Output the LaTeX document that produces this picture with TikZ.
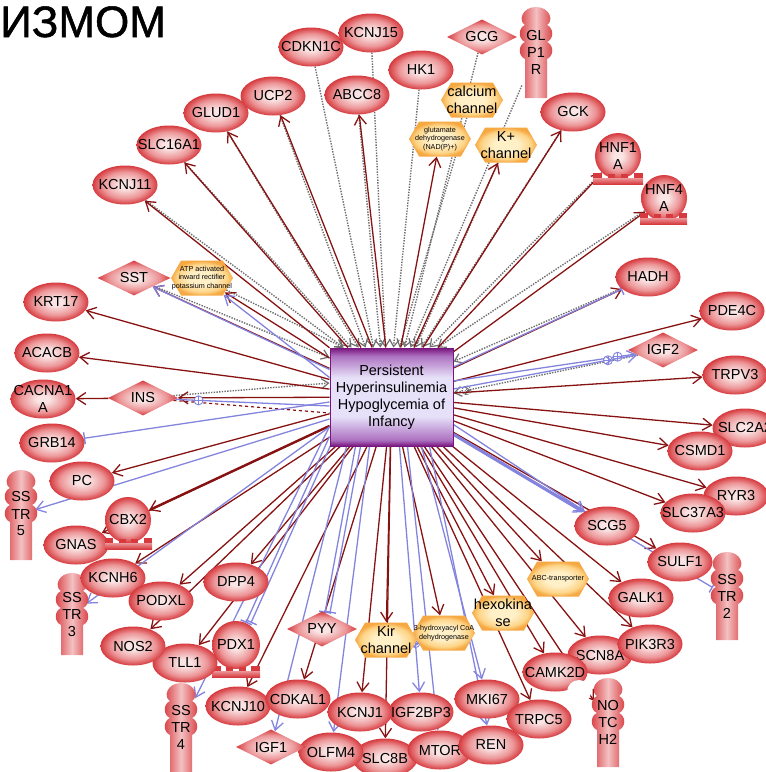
\documentclass[tikz,border=0pt]{standalone}
\usepackage{fontspec}
\setmainfont{Liberation Sans}
\newfontfamily\titlefont[FakeBold=1.2]{Liberation Sans}
\usetikzlibrary{shapes.geometric,shapes.symbols,arrows.meta,backgrounds,calc}

\definecolor{rg0}{RGB}{250,228,228}
\definecolor{rg1}{RGB}{236,150,152}
\definecolor{rg2}{RGB}{214,58,62}
\definecolor{og0}{RGB}{255,240,200}
\definecolor{og1}{RGB}{253,212,135}
\definecolor{og2}{RGB}{246,168,66}
\definecolor{linkred}{RGB}{135,18,18}
\definecolor{linkblue}{RGB}{132,132,222}
\definecolor{linkgray}{RGB}{110,110,110}
\definecolor{boxdark}{RGB}{120,20,125}
\definecolor{boxmid}{RGB}{172,112,192}
\definecolor{boxlight}{RGB}{230,224,248}

\pgfdeclareradialshading{redglow}{\pgfpoint{0bp}{0bp}}{color(0bp)=(rg0); color(5bp)=(rg0); color(17bp)=(rg1); color(25bp)=(rg2); color(50bp)=(rg2)}
\pgfdeclareradialshading{orangeglow}{\pgfpoint{0bp}{0bp}}{color(0bp)=(og0); color(10bp)=(og0); color(20bp)=(og1); color(25bp)=(og2); color(50bp)=(og2)}
\pgfdeclareverticalshading{boxshade}{100bp}{color(0bp)=(boxdark); color(25bp)=(boxdark); color(28bp)=(boxmid); color(40bp)=(boxlight); color(60bp)=(boxlight); color(71bp)=(boxmid); color(75bp)=(boxdark); color(100bp)=(boxdark)}

\newcommand\genefont{\fontsize{14.5}{17}\selectfont}
\newcommand\tinyfont{\fontsize{7.2}{8.4}\selectfont}

% receptor: centre x, top y, bottom y
\newcommand\rshape[3]{%
  \path[left color=rg2, right color=rg2, middle color=rg0!55!rg1]
  (#1-11,#3) -- (#1-11,#2+52)
  .. controls (#1-18,#2+49) and (#1-18,#2+38) .. (#1-11,#2+35)
  .. controls (#1-18,#2+32) and (#1-18,#2+21) .. (#1-11,#2+18)
  .. controls (#1-18,#2+14) and (#1-14,#2) .. (#1,#2)
  .. controls (#1+14,#2) and (#1+18,#2+14) .. (#1+11,#2+18)
  .. controls (#1+18,#2+21) and (#1+18,#2+32) .. (#1+11,#2+35)
  .. controls (#1+18,#2+38) and (#1+18,#2+49) .. (#1+11,#2+52)
  -- (#1+11,#3) -- cycle;}
% toothed base under a nuclear factor: left x, right x, top y
\newcommand\cbase[3]{%
  \path[top color=rg1, bottom color=rg2] (#1,#3+5) rectangle (#2,#3+11);
  \fill[rg2] (#1,#3) rectangle ({#1+0.18*(#2-#1)},#3+5);
  \fill[rg2] ({#1+0.30*(#2-#1)},#3+1) rectangle ({#1+0.44*(#2-#1)},#3+5);
  \fill[rg2] ({#1+0.56*(#2-#1)},#3+1) rectangle ({#1+0.70*(#2-#1)},#3+5);
  \fill[rg2] ({#1+0.82*(#2-#1)},#3) rectangle (#2,#3+5);}

\tikzset{
  gene/.style={ellipse, shade, shading=redglow, minimum width=65pt, minimum height=39pt,
    inner xsep=-40pt, inner ysep=-20pt, font=\genefont, align=center},
  dia/.style={diamond, aspect=2, shade, shading=redglow, minimum width=70pt,
    minimum height=35pt, inner sep=0pt, font=\genefont},
  hexa/.style={signal, signal to=east and west, signal pointer angle=120, shade,
    shading=orangeglow, minimum width=62pt, minimum height=35pt, inner sep=0pt},
  hx/.style={font=\genefont, align=center, inner sep=0pt},
  hxs/.style={font=\tinyfont, align=center, inner sep=0pt},
  nf/.style={circle, shade, shading=redglow, minimum size=46pt, inner sep=-20pt,
    font=\genefont, align=center},
  rcpt/.style={rectangle, minimum width=28pt, minimum height=91pt, inner sep=0pt,
    font=\genefont, align=center},
  ra/.style={draw=linkred, line width=1.3pt,
    -{Straight Barb[length=9pt,width=12pt,line width=1.3pt]}},
  gd/.style={draw=linkgray, line width=1.4pt, dash pattern=on 1.4pt off 1.3pt,
    -{Straight Barb[length=7pt,width=10pt,line width=1.2pt]}},
  ba/.style={draw=linkblue, line width=1.3pt,
    -{Straight Barb[length=9pt,width=12pt,line width=1.3pt]}},
  bt/.style={draw=linkblue, line width=1.3pt, -{Bar[width=12pt,line width=1.4pt]}},
  bl/.style={draw=linkblue, line width=1.3pt},
  oplus/.style={circle, draw=#1, fill=white, line width=0.9pt, minimum size=9pt,
    inner sep=0pt, path picture={\draw[#1, line width=0.8pt]
      (path picture bounding box.north) -- (path picture bounding box.south)
      (path picture bounding box.west) -- (path picture bounding box.east);}},
}

\begin{document}
\begin{tikzpicture}[x=1pt, y=-1pt]
\useasboundingbox (0,0) rectangle (766,772);

\node[anchor=base west, inner sep=0pt, font=\titlefont\fontsize{44}{44}\selectfont] (title) at (0,37) {ИЗМОМ};

% central disease node
\node[draw=boxdark, line width=1pt, shade, shading=boxshade, minimum width=123pt,
  minimum height=98pt, inner sep=0pt, font=\genefont, align=center] (box) at (391.5,397)
  {Persistent\\Hyperinsulinemia\\Hypoglycemia of\\Infancy};

% ---------------- top ----------------
\node[gene] (CDKN1C) at (311,47) {CDKN1C};
\node[gene] (KCNJ15) at (371,33) {KCNJ15};
\node[gene] (ABCC8) at (357,95) {ABCC8};
\node[gene] (HK1) at (421,70) {HK1};
\node[dia] (GCG) at (482,37) {GCG};
\rshape{536}{7}{98}
\node[rcpt] (GLP1R) at (536,52) {GL\\P1\\R};
\node[hexa, label={[hx]center:{calcium\\channel}}] (Ca) at (472,100) {};
\node[hexa, label={[hxs]center:{glutamate\\dehydrogenase\\(NAD(P)+)}}] (GDH) at (440,139) {};
\node[hexa, label={[hx]center:{K+\\channel}}] (Kch) at (506,145) {};
\node[gene] (UCP2) at (273,96) {UCP2};
\node[gene] (GCK) at (573,112) {GCK};
\node[gene] (GLUD1) at (216,113) {GLUD1};
\node[gene] (SLC16A1) at (169,145) {SLC16A1};
\node[gene] (KCNJ11) at (125,185) {KCNJ11};
\node[nf] (HNF1A) at (618,156) {HNF1\\A};
\cbase{593}{643}{173}
\node[nf] (HNF4A) at (664,198) {HNF4\\A};
\cbase{640}{687}{213}

% ---------------- right ----------------
\node[gene] (HADH) at (648,277) {HADH};
\node[gene] (PDE4C) at (732,311) {PDE4C};
\node[dia] (IGF2) at (663,350) {IGF2};
\node[gene] (TRPV3) at (735,375) {TRPV3};
\node[gene] (SLC2A2) at (745,428) {SLC2A2};
\node[gene] (CSMD1) at (700,451) {CSMD1};
\node[gene] (RYR3) at (736,496) {RYR3};
\node[gene] (SLC37A3) at (693,513) {SLC37A3};
\node[gene] (SCG5) at (607,526) {SCG5};
\node[gene] (SULF1) at (680,562) {SULF1};
\rshape{727}{552}{640}
\node[rcpt] (SSTR2) at (727,596) {SS\\TR\\2};
\node[gene] (GALK1) at (641,598) {GALK1};
\node[hexa, label={[hxs]center:{ABC-transporter}}] (ABCt) at (558,579) {};
\node[gene] (SCN8A) at (600,655) {SCN8A};
\node[gene] (PIK3R3) at (650,644) {PIK3R3};
\node[gene] (CAMK2D) at (555,672) {};
\fill[white] (579,692) circle (12);
\node[font=\genefont, inner sep=0pt] (CAMK2Dt) at (555,672) {CAMK2D};
\rshape{608}{678}{767}
\node[rcpt] (NOTCH2) at (608,722) {NO\\TC\\H2};

% ---------------- bottom ----------------
\node[hexa, label={[hx]center:{hexokina\\se}}] (hexo) at (503,613) {};
\node[hexa, label={[hxs]center:{3-hydroxyacyl CoA\\dehydrogenase}}] (HAD3) at (444,633) {};
\node[hexa, label={[hx]center:{Kir\\channel}}] (Kir) at (386,640) {};
\node[dia] (PYY) at (322,629) {PYY};
\node[gene] (MKI67) at (487,699) {MKI67};
\node[gene] (TRPC5) at (539,719) {TRPC5};
\node[gene] (IGF2BP3) at (421,712) {IGF2BP3};
\node[gene] (SLC8B) at (385,758) {SLC8B};
\node[gene] (MTOR) at (440,750) {MTOR};
\node[gene] (REN) at (491,745) {REN};
\node[gene] (KCNJ1) at (360,712) {KCNJ1};
\node[gene] (OLFM4) at (331,752) {OLFM4};
\node[dia] (IGF1) at (271,747) {IGF1};
\node[gene] (KCNJ10) at (238,706) {KCNJ10};
\node[gene] (CDKAL1) at (298,699) {CDKAL1};
\node[nf, minimum size=48pt] (PDX1) at (236,645) {PDX1};
\cbase{212}{260}{666}
\node[gene] (DPP4) at (236,582) {DPP4};
\node[gene] (TLL1) at (185,663) {TLL1};
\rshape{181}{683}{780}
\node[rcpt] (SSTR4) at (181,727) {SS\\TR\\4};

% ---------------- left ----------------
\rshape{72}{573}{655}
\node[rcpt, minimum height=82pt] (SSTR3) at (72,614) {SS\\TR\\3};
\node[gene] (KCNH6) at (113,578) {KCNH6};
\node[gene] (NOS2) at (133,646) {NOS2};
\node[gene] (PODXL) at (161,601) {PODXL};
\node[gene] (GNAS) at (76,545) {GNAS};
\node[nf] (CBX2) at (128,520) {CBX2};
\cbase{105}{152}{538}
\rshape{21}{470}{560}
\node[rcpt] (SSTR5) at (21,514) {SS\\TR\\5};
\node[gene] (PC) at (82,481) {PC};
\node[gene] (GRB14) at (52,443) {GRB14};
\node[gene] (CACNA1A) at (43,399) {CACNA1\\A};
\node[dia] (INS) at (143,398) {INS};
\node[gene] (ACACB) at (47,353) {ACACB};
\node[gene] (KRT17) at (56,302) {KRT17};
\node[dia, minimum width=73pt] (SST) at (134,278) {SST};
\node[hexa, label={[hxs]center:{ATP activated\\inward rectifier\\potassium channel}}] (ATPch) at (202,278) {};

% ---------------- connectors ----------------
\begin{pgfonlayer}{background}
  % dotted links into the disease node
  \foreach \n/\dx in {KCNJ11/-48, SLC16A1/-40, GLUD1/-33, UCP2/-26, CDKN1C/-18,
      ABCC8/-11, KCNJ15/-6, HK1/2, Ca/8, GCG/13, GLP1R/19, Kch/24, GCK/30,
      HNF1A/38, HNF4A/46}
    \draw[gd] (\n) -- ($(box.north)+(\dx,0)$);
  \draw[gd] (HADH) -- ($(box.north east)+(0,14)$);
  \draw[gd] (IGF2) -- ($(box.east)+(0,-4)$) node[oplus=linkgray, pos=0.93] (pIGFg) {};
  \draw[gd] (INS) -- ($(box.west)+(0,-14)$);
  \draw[gd] (SST) -- ($(box.north west)+(0,10)$);
  \draw[gd] (ATPch) -- ($(box.north west)+(14,0)$);

  % red links out of the disease node
  \foreach \n in {ABCC8,GDH,Kch,GCK,UCP2,GLUD1,SLC16A1,KCNJ11,HNF1A,HNF4A,HADH,
      PDE4C,TRPV3,SLC2A2,CSMD1,RYR3,SLC37A3,SULF1,GALK1,PIK3R3,SCN8A,ABCt,NOTCH2,
      CAMK2D,hexo,TRPC5,HAD3,SLC8B,Kir,KCNJ1,CDKAL1,KCNJ10,TLL1,DPP4,PODXL,NOS2,
      KCNH6,GNAS,PC,INS,ACACB,KRT17,SST,ATPch}
    \draw[ra] (box) -- (\n);
  \draw[ra, line width=2.4pt] (box) -- (CBX2);
  \draw[ra] (INS) -- (CACNA1A);
  \draw[draw=linkred, line width=1.2pt, dashed] (INS) -- ($(box.west)+(0,16)$);

  % blue links
  \draw[ba] ($(box.north west)+(0,22)$) -- (SST);
  \draw[ba] ($(box.north west)+(0,30)$) -- (ATPch);
  \draw[bt] ($(box.east)+(0,-30)$) -- (HADH);
  \draw[bl] ($(box.east)+(0,-16)$) -- (IGF2) node[oplus=linkblue, pos=0.9] (pIGF1) {};
  \draw[ba] ($(box.east)+(0,-8)$) -- (IGF2) node[oplus=linkblue, pos=0.84] (pIGF2) {};
  \draw[ba, line width=3pt] ($(box.south east)+(0,-12)$) -- (SCG5);
  \draw[ba] ($(box.south east)+(0,-22)$) -- (SCG5);
  \draw[bt] (box) -- (SSTR2);
  \draw[ba] ($(box.south)+(30,0)$) -- (MKI67);
  \draw[ba] ($(box.south)+(38,0)$) -- (REN);
  \draw[ba] ($(box.south)+(16,0)$) -- (MTOR);
  \draw[ba] ($(box.south)+(8,0)$) -- (IGF2BP3) node[oplus=linkblue, pos=0.8] (pIGF2BP3) {};
  \draw[ba] ($(box.south)+(-22,0)$) -- (OLFM4);
  \draw[ba] ($(box.south)+(-45,0)$) -- (IGF1);
  \draw[bt] ($(box.south)+(-36,0)$) -- (PYY);
  \draw[bt, transform canvas={xshift=5pt}] ($(box.south)+(-36,0)$) -- (PYY);
  \draw[bt] ($(box.south west)+(0,-10)$) -- (PDX1);
  \draw[bt, transform canvas={xshift=5pt}] ($(box.south west)+(0,-10)$) -- (PDX1);
  \draw[ba] ($(box.south west)+(0,-20)$) -- (SSTR4);
  \draw[ba] ($(box.west)+(0,30)$) -- (SSTR3);
  \draw[ba] ($(box.west)+(0,22)$) -- (SSTR5);
  \draw[bt] ($(box.west)+(0,5)$) -- (GRB14);
  \draw[bl] ($(box.west)+(0,9)$) -- (INS) node[oplus=linkblue, pos=0.85] (pINS) {};
\end{pgfonlayer}
\end{tikzpicture}
\end{document}
